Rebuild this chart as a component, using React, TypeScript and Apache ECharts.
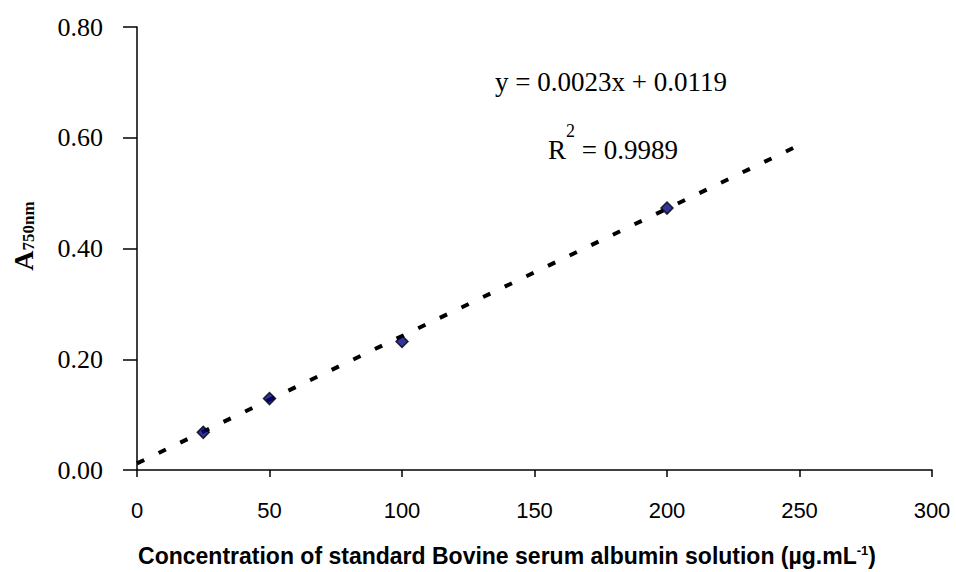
import React, { useEffect, useRef } from "react";
import * as echarts from "echarts";

const concentrations = [25, 50, 100, 200];
const absorbances = [0.068, 0.129, 0.232, 0.473];
const xTicks = [0, 50, 100, 150, 200, 250, 300];
const yTicks = [0, 0.2, 0.4, 0.6, 0.8];
const slope = 0.0023;
const intercept = 0.0119;
const trendRange = [0, 248];

const SERIF = "'Liberation Serif', 'Times New Roman', serif";
const SANS = "'Liberation Sans', Arial, sans-serif";

export default function App() {
  const ref = useRef<HTMLDivElement>(null);
  useEffect(() => {
    if (!ref.current) return;
    const chart = echarts.init(ref.current, null, { renderer: "svg" });
    const trend = trendRange.map((x) => [x, slope * x + intercept]);
    chart.setOption({
      animation: false,
      backgroundColor: "#ffffff",
      grid: { left: 137, right: 24, top: 27, bottom: 102, containLabel: false },
      xAxis: {
        type: "value",
        min: xTicks[0],
        max: xTicks[xTicks.length - 1],
        interval: 50,
        splitLine: { show: false },
        axisLine: { show: true, onZero: false, lineStyle: { color: "#000", width: 1.5 } },
        axisTick: { show: true, inside: false, length: 7, lineStyle: { color: "#000", width: 1.5 } },
        axisLabel: { color: "#000", fontFamily: SANS, fontSize: 22, margin: 29 },
      },
      yAxis: {
        type: "value",
        min: yTicks[0],
        max: yTicks[yTicks.length - 1],
        interval: 0.2,
        splitLine: { show: false },
        axisLine: { show: true, onZero: false, lineStyle: { color: "#000", width: 1.5 } },
        axisTick: { show: true, inside: false, length: 14, lineStyle: { color: "#000", width: 1.5 } },
        axisLabel: {
          color: "#000",
          fontFamily: SERIF,
          fontSize: 26,
          margin: 34,
          formatter: (v: number) => v.toFixed(2),
        },
      },
      series: [
        {
          type: "line",
          data: trend,
          showSymbol: false,
          symbol: "none",
          z: 1,
          lineStyle: { color: "#000", width: 4, type: [8, 16] },
        },
        {
          type: "scatter",
          data: concentrations.map((c, i) => [c, absorbances[i]]),
          symbol: "diamond",
          symbolSize: 12,
          z: 3,
          itemStyle: { color: "#000080", borderColor: "#000", borderWidth: 1.5 },
        },
      ],
      graphic: [
        {
          type: "text",
          x: 495,
          y: 82,
          style: {
            text: "y = 0.0023x + 0.0119",
            fontFamily: SERIF,
            fontSize: 27,
            fill: "#000",
            textAlign: "left",
            textVerticalAlign: "middle",
          },
        },
        {
          type: "text",
          x: 548,
          y: 163,
          style: {
            text: "{a|R}{s|2}{a| = 0.9989}",
            textAlign: "left",
            textVerticalAlign: "bottom",
            rich: {
              a: { fontFamily: SERIF, fontSize: 27, lineHeight: 27, verticalAlign: "bottom", fill: "#000" },
              s: { fontFamily: SERIF, fontSize: 18, lineHeight: 64, fill: "#000" },
            },
          },
        },
        {
          type: "text",
          x: 22,
          y: 236,
          rotation: Math.PI / 2,
          style: {
            text: "{a|A}{s|750nm}",
            textAlign: "center",
            textVerticalAlign: "middle",
            rich: {
              a: { fontFamily: SERIF, fontWeight: "bold", fontSize: 28, lineHeight: 30, verticalAlign: "bottom", fill: "#000" },
              s: { fontFamily: SERIF, fontWeight: "bold", fontSize: 17, lineHeight: 20, verticalAlign: "bottom", fill: "#000" },
            },
          },
        },
        {
          type: "text",
          x: 507,
          y: 567,
          style: {
            text: "{a|Concentration of standard Bovine serum albumin solution (µg.mL}{s|-1}{a|)}",
            textAlign: "center",
            textVerticalAlign: "bottom",
            rich: {
              a: { fontFamily: SANS, fontWeight: "bold", fontSize: 23, lineHeight: 25, verticalAlign: "bottom", fill: "#000" },
              s: { fontFamily: SANS, fontWeight: "bold", fontSize: 13, lineHeight: 34, fill: "#000" },
            },
          },
        },
      ],
    });
    return () => chart.dispose();
  }, []);
  return (
    <div
      ref={ref}
      style={{ position: "fixed", left: 0, top: 0, width: 956, height: 572, background: "#fff" }}
    />
  );
}
